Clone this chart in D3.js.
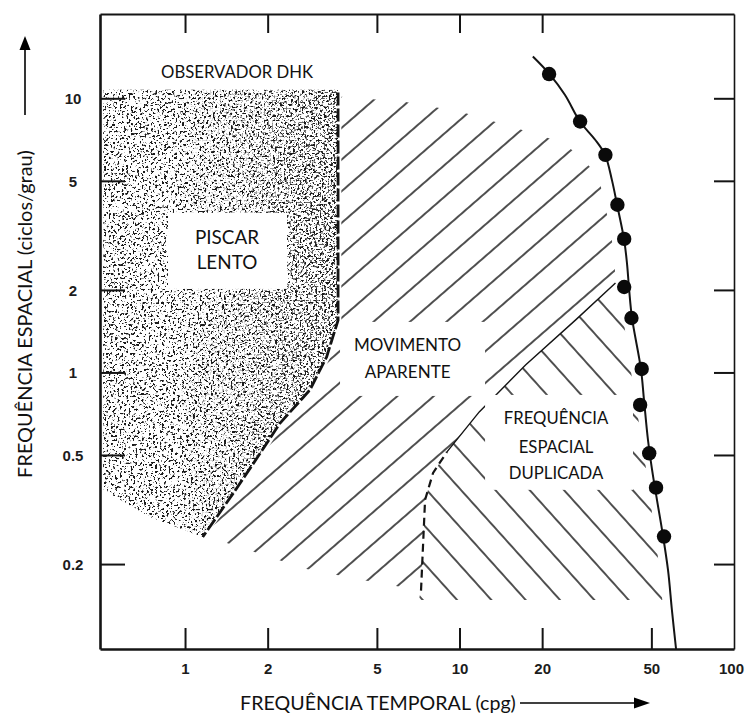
<!DOCTYPE html>
<html><head><meta charset="utf-8">
<script src="https://cdn.jsdelivr.net/npm/d3@7"></script>
<style>
html,body{margin:0;padding:0;background:#fff;}
svg{display:block;}
</style></head><body>
<svg id="chart" width="755" height="714"></svg>
<script>
// ---------------- data ----------------
const xTicks = [1, 2, 5, 10, 20, 50, 100];
const xTickLabels = ["1", "2", "5", "10", "20", "50", "100"];
const topTicks = [1, 2, 5, 10, 20];
const yTicks = [0.2, 0.5, 1, 2, 5, 10];
const yTickLabels = ["0.2", "0.5", "1", "2", "5", "10"];

// measured points (observer DHK)
const dotTemporal = [21.2, 27.5, 34.0, 37.6, 39.8, 39.8, 42.3, 46.1, 45.5, 49.1, 52.0, 55.6];
const dotSpatial  = [12.26, 8.23, 6.22, 4.09, 3.07, 2.05, 1.58, 1.03, 0.761, 0.507, 0.380, 0.252];

// fitted limit curve
const curveTemporal = [18.5, 21.2, 24.2, 27.5, 31.2, 33.9, 35.9, 37.5, 39.8, 40.8, 41.5, 42.5, 45.8, 47.0, 48.6, 50.3, 52.4, 54.7, 57.5, 59.4, 61.5];
const curveSpatial  = [14.2, 12.3, 10.3, 8.21, 7.06, 6.22, 5.04, 4.09, 3.04, 2.47, 2.00, 1.58, 1.03, 0.794, 0.567, 0.441, 0.343, 0.266, 0.190, 0.136, 0.098];

// region: slow flicker (stippled)
const flickerTemporal = [0.503, 3.61, 3.61, 3.28, 2.85, 2.22, 1.88, 1.50, 1.16, 0.746, 0.503];
const flickerSpatial  = [10.74, 10.74, 1.55, 1.14, 0.863, 0.654, 0.508, 0.363, 0.251, 0.297, 0.373];
const flickerEdgeTemporal = [3.61, 3.61, 3.28, 2.85, 2.22, 1.88, 1.50, 1.16];
const flickerEdgeSpatial  = [10.5, 1.55, 1.14, 0.863, 0.654, 0.508, 0.363, 0.251];

// region: apparent motion (/ hatching)
const apparentTemporal = [3.71, 6.29, 10.1, 15.5, 23.9, 27.8, 32.1, 33.7, 35.5, 36.7, 37.0, 26.5, 17.4, 11.8, 9.0, 8.01, 7.49, 7.24, 5.55, 4.43, 2.77, 1.43, 1.18, 1.55, 1.95, 2.30, 2.95, 3.39, 3.71];
const apparentSpatial  = [10.14, 9.71, 8.93, 7.87, 6.88, 6.06, 5.21, 4.16, 3.31, 2.57, 2.12, 1.555, 1.065, 0.718, 0.513, 0.430, 0.343, 0.160, 0.168, 0.175, 0.192, 0.238, 0.249, 0.363, 0.508, 0.654, 0.863, 1.14, 1.55];

// region: doubled spatial frequency (\ hatching)
const doubledTemporal = [7.24, 7.49, 8.01, 9.0, 11.8, 17.4, 26.5, 37.0, 38.6, 42.6, 47.9, 53.0, 54.8, 7.1];
const doubledSpatial  = [0.16, 0.343, 0.430, 0.513, 0.718, 1.065, 1.555, 2.12, 1.84, 0.939, 0.441, 0.207, 0.148, 0.148];
const doubledDashTemporal = [7.24, 7.49, 8.01, 9.0];
const doubledDashSpatial  = [0.16, 0.343, 0.430, 0.513];
const doubledEdgeTemporal = [9.0, 11.8, 17.4, 26.5, 37.0];
const doubledEdgeSpatial  = [0.513, 0.718, 1.065, 1.555, 2.12];

// label boxes [t0, t1], [s0, s1]
const boxTemporal = [[0.867, 2.353], [3.67, 12.39], [12.39, 42.86]];
const boxSpatial  = [[2.017, 3.82], [0.821, 1.529], [0.373, 0.828]];

// region labels
const labelLines    = ["OBSERVADOR DHK", "PISCAR", "LENTO", "MOVIMENTO", "APARENTE", "FREQUÊNCIA", "ESPACIAL", "DUPLICADA"];
const labelTemporal = [1.547, 1.422, 1.422, 6.47, 6.47, 22.47, 22.47, 22.47];
const labelSpatial  = [12.49, 3.12, 2.51, 1.26, 1.0, 0.682, 0.535, 0.430];
const labelGroup    = [0, 1, 1, 2, 2, 3, 3, 3];

const xTitle = "FREQUÊNCIA TEMPORAL (cpg)";
const yTitle = "FREQUÊNCIA ESPACIAL (ciclos/grau)";

// ---------------- layout / style ----------------
const labelTargetW = [152, 66.7, 58.3, 108.4, 85, 105, 75, 93.3];
const FONT = "Lato, 'Open Sans', sans-serif";
const INK = "#141414";

const svg = d3.select("#chart");
const x = d3.scaleLog().domain([0.49, 100]).range([100, 734]);
const y = d3.scaleLog().domain([0.098, 20.3]).range([649, 14]);

const pts = (tx, sy) => tx.map((t, i) => [x(t), y(sy[i])]);
const poly = d3.line().curve(d3.curveLinearClosed);
const open = d3.line();

const defs = svg.append("defs");

// stipple texture filter
function stippleFilter(id, seed, freq, k, b) {
  const f = defs.append("filter").attr("id", id)
    .attr("filterUnits", "userSpaceOnUse")
    .attr("x", 90).attr("y", 70).attr("width", 280).attr("height", 500)
    .attr("color-interpolation-filters", "sRGB");
  f.append("feTurbulence").attr("type", "fractalNoise").attr("baseFrequency", freq)
    .attr("numOctaves", 2).attr("seed", seed).attr("result", "n");
  f.append("feColorMatrix").attr("in", "n").attr("type", "matrix")
    .attr("values", `0 0 0 0 0.1  0 0 0 0 0.1  0 0 0 0 0.1  ${k} 0 0 0 ${b}`)
    .attr("result", "d");
  f.append("feComposite").attr("in", "d").attr("in2", "SourceGraphic").attr("operator", "in");
}
stippleFilter("stip1", 4, 0.45, -14, 6.0);
stippleFilter("stip2", 11, 0.5, -14, 6.1);

// mask for darker stipple near right boundary
const grad = defs.append("linearGradient").attr("id", "gDark")
  .attr("gradientUnits", "userSpaceOnUse")
  .attr("x1", 170).attr("y1", 0).attr("x2", 345).attr("y2", 0);
grad.append("stop").attr("offset", 0).attr("stop-color", "#fff").attr("stop-opacity", 0);
grad.append("stop").attr("offset", 1).attr("stop-color", "#fff").attr("stop-opacity", 0.85);
const mask = defs.append("mask").attr("id", "mDark");
mask.append("rect").attr("x", 0).attr("y", 0).attr("width", 755).attr("height", 714).attr("fill", "url(#gDark)");

// hatch patterns
function hatch(id, angle, spacing, anchor) {
  const [ax, ay] = anchor;
  const p = defs.append("pattern").attr("id", id)
    .attr("patternUnits", "userSpaceOnUse")
    .attr("width", 300).attr("height", spacing)
    .attr("patternTransform", `translate(${ax},${ay}) rotate(${angle}) translate(0,${-spacing / 2})`);
  p.append("line").attr("x1", 0).attr("x2", 300)
    .attr("y1", spacing / 2).attr("y2", spacing / 2)
    .attr("stroke", INK).attr("stroke-width", 1.4);
}
hatch("hatchUp", -41, 23.9, [x(2.20), y(0.203)]);
hatch("hatchDown", 48, 25.5, [x(12.9), y(0.150)]);

// ---------------- marks ----------------
// stippled region
svg.append("path").attr("d", poly(pts(flickerTemporal, flickerSpatial)))
  .attr("fill", "#000").attr("filter", "url(#stip1)");
svg.append("g").attr("mask", "url(#mDark)")
  .append("path").attr("d", poly(pts(flickerTemporal, flickerSpatial)))
  .attr("fill", "#000").attr("filter", "url(#stip2)");

// hatched regions
svg.append("path").attr("d", poly(pts(apparentTemporal, apparentSpatial)))
  .attr("fill", "url(#hatchUp)");
svg.append("path").attr("d", poly(pts(doubledTemporal, doubledSpatial)))
  .attr("fill", "url(#hatchDown)");

// region boundaries
svg.append("path").attr("d", open(pts(doubledEdgeTemporal, doubledEdgeSpatial)))
  .attr("fill", "none").attr("stroke", INK).attr("stroke-width", 1.4);
svg.append("path").attr("d", open(pts(doubledDashTemporal, doubledDashSpatial)))
  .attr("fill", "none").attr("stroke", INK).attr("stroke-width", 2.2)
  .attr("stroke-dasharray", "8 5");

// label boxes
boxTemporal.forEach((bt, i) => {
  const bs = boxSpatial[i];
  svg.append("rect")
    .attr("x", x(bt[0])).attr("y", y(bs[1]))
    .attr("width", x(bt[1]) - x(bt[0])).attr("height", y(bs[0]) - y(bs[1]))
    .attr("fill", "#fff");
});

svg.append("path").attr("d", open(pts(flickerEdgeTemporal, flickerEdgeSpatial)))
  .attr("fill", "none").attr("stroke", INK).attr("stroke-width", 2.8)
  .attr("stroke-dasharray", "13 3");

// limit curve + points
svg.append("path")
  .attr("d", d3.line().curve(d3.curveCatmullRom)(pts(curveTemporal, curveSpatial)))
  .attr("fill", "none").attr("stroke", INK).attr("stroke-width", 2);
svg.append("g").selectAll("circle").data(dotTemporal).join("circle")
  .attr("cx", d => x(d)).attr("cy", (d, i) => y(dotSpatial[i]))
  .attr("r", 7.2).attr("fill", "#0a0a0a");

// region labels
const lbl = svg.append("g").attr("font-family", FONT).attr("fill", "#111");
const lblSel = lbl.selectAll("text").data(labelLines).join("text")
  .attr("x", (d, i) => x(labelTemporal[i]))
  .attr("y", (d, i) => y(labelSpatial[i]))
  .attr("dy", "0.35em").attr("text-anchor", "middle")
  .attr("font-size", 20).text(d => d);
const nodes = lblSel.nodes();
d3.groups(d3.range(labelLines.length), i => labelGroup[i]).forEach(([g, idx]) => {
  const r = d3.mean(idx, i => labelTargetW[i] / nodes[i].getComputedTextLength());
  idx.forEach(i => d3.select(nodes[i]).attr("font-size", (20 * r).toFixed(2)));
});

// ---------------- axes / frame ----------------
function styleAxis(g, w) {
  g.select(".domain").attr("stroke", INK).attr("stroke-width", w);
  g.selectAll(".tick line").attr("stroke", INK).attr("stroke-width", 2);
  g.selectAll(".tick text").attr("fill", "#1c1c1c")
    .attr("font-family", "'Liberation Sans', Arial, sans-serif")
    .attr("font-weight", "bold").attr("font-size", 15);
}
const gTop = svg.append("g").attr("transform", `translate(0,${y.range()[1]})`)
  .call(d3.axisTop(x).tickValues(topTicks).tickFormat("").tickSizeInner(-19).tickSizeOuter(0));
styleAxis(gTop, 2);
const gRight = svg.append("g").attr("transform", `translate(${x.range()[1]},0)`)
  .call(d3.axisRight(y).tickValues(yTicks).tickFormat("").tickSizeInner(-20).tickSizeOuter(0));
styleAxis(gRight, 1.6);
const gBottom = svg.append("g").attr("transform", `translate(0,${y.range()[0]})`)
  .call(d3.axisBottom(x).tickValues(xTicks).tickFormat((d, i) => xTickLabels[i]).tickSizeInner(-21).tickSizeOuter(0));
styleAxis(gBottom, 2.6);
gBottom.selectAll(".tick text").attr("y", 20).attr("dy", "0.35em");
gBottom.selectAll(".tick").filter(d => d === 100).select("line").remove();
gBottom.selectAll(".tick").filter(d => d === 100).select("text").attr("x", -3);
const gLeft = svg.append("g").attr("transform", `translate(${x.range()[0]},0)`)
  .call(d3.axisLeft(y).tickValues(yTicks).tickFormat((d, i) => yTickLabels[i]).tickSizeInner(-25).tickSizeOuter(0));
styleAxis(gLeft, 2.6);
gLeft.selectAll(".tick text").attr("x", -27).attr("text-anchor", "middle").attr("dy", "0.35em");

// axis titles
function fit(sel, target) {
  const w = sel.node().getComputedTextLength();
  sel.attr("font-size", (20 * target / w).toFixed(2));
}
const xt = svg.append("text").attr("x", 378).attr("y", 710).attr("text-anchor", "middle")
  .attr("font-family", FONT).attr("font-size", 20).attr("fill", "#111").text(xTitle);
fit(xt, 276);
const yt = svg.append("text").attr("transform", "translate(32,314) rotate(-90)").attr("text-anchor", "middle")
  .attr("font-family", FONT).attr("font-size", 20).attr("fill", "#111").text(yTitle);
fit(yt, 328);

// arrows
svg.append("line").attr("x1", 25).attr("x2", 25).attr("y1", 115).attr("y2", 48)
  .attr("stroke", "#000").attr("stroke-width", 1.6);
svg.append("path").attr("d", "M25,36 L19.5,50 L30.5,50 Z").attr("fill", "#000");
svg.append("line").attr("x1", 520).attr("x2", 636).attr("y1", 703).attr("y2", 703)
  .attr("stroke", "#000").attr("stroke-width", 1.6);
svg.append("path").attr("d", "M650,703 L634,697.5 L634,708.5 Z").attr("fill", "#000");
</script>
</body></html>
